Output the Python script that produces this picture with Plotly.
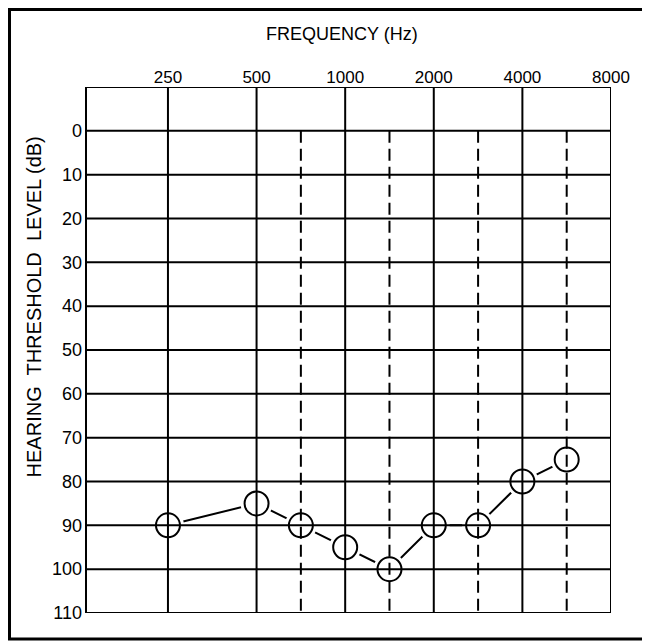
import math
import plotly.graph_objects as go

# ---- data ----
frequencies = [250, 500, 750, 1000, 1500, 2000, 3000, 4000, 6000]
thresholds_db = [90, 85, 90, 95, 100, 90, 90, 80, 75]
octave_freqs = [250, 500, 1000, 2000, 4000, 8000]
octave_labels = ["250", "500", "1000", "2000", "4000", "8000"]
mid_octave_freqs = [750, 1500, 3000, 6000]
db_levels = [-10, 0, 10, 20, 30, 40, 50, 60, 70, 80, 90, 100, 110]
db_tick_vals = [0, 10, 20, 30, 40, 50, 60, 70, 80, 90, 100, 110]
db_tick_labels = [str(v) for v in db_tick_vals]


def audiogram_pos(f):
    """Audiogram frequency scale: octaves relative to 250 Hz,
    inter-octave frequencies placed at the half-octave."""
    return round(2 * math.log2(f / 250)) / 2


x_data = [audiogram_pos(f) for f in frequencies]
x_octaves = [audiogram_pos(f) for f in octave_freqs]
x_mids = [audiogram_pos(f) for f in mid_octave_freqs]

FONT = "Liberation Sans, Arial, sans-serif"
fig = go.Figure()

# connecting line
fig.add_trace(go.Scatter(
    x=x_data, y=thresholds_db, mode="lines",
    line=dict(color="black", width=2),
    hoverinfo="skip", showlegend=False,
))
# white halo to leave a small gap between line and circles
fig.add_trace(go.Scatter(
    x=x_data, y=thresholds_db, mode="markers",
    marker=dict(symbol="circle", size=32, color="white", line=dict(width=0)),
    hoverinfo="skip", showlegend=False,
))
# circle symbols
fig.add_trace(go.Scatter(
    x=x_data, y=thresholds_db, mode="markers",
    marker=dict(symbol="circle", size=24, color="white",
                line=dict(color="black", width=2)),
    customdata=frequencies,
    hovertemplate="%{customdata} Hz: %{y} dB<extra></extra>",
    showlegend=False,
))

shapes = []
for v in db_levels:
    shapes.append(dict(type="line", xref="paper", yref="y", x0=0, x1=1, y0=v, y1=v,
                       line=dict(color="black", width=2), layer="above"))
for xv in x_octaves:
    shapes.append(dict(type="line", xref="x", yref="y", x0=xv, x1=xv, y0=-10, y1=110,
                       line=dict(color="black", width=2), layer="above"))
for xv in x_mids:
    shapes.append(dict(type="line", xref="x", yref="y", x0=xv, x1=xv, y0=0, y1=110,
                       line=dict(color="black", width=2, dash="12px,6px"), layer="above"))
shapes.append(dict(type="line", xref="paper", yref="paper", x0=0, x1=0, y0=0, y1=1,
                   line=dict(color="black", width=2), layer="above"))
# outer frame
shapes.append(dict(type="rect", xref="paper", yref="paper",
                   x0=-0.1457, x1=1.0724, y0=-0.0494, y1=1.1473,
                   line=dict(color="black", width=3), layer="above"))

fig.update_layout(
    width=642, height=633,
    margin=dict(l=78, r=39, t=79, b=28, autoexpand=False),
    paper_bgcolor="white", plot_bgcolor="white",
    font=dict(family=FONT, color="black"),
    shapes=shapes,
    xaxis=dict(range=[-0.925, 5.0],
               side="top", tickvals=x_octaves, ticktext=octave_labels,
               showgrid=False, zeroline=False, showline=False, ticks="",
               automargin=False,
               tickfont=dict(size=17, family=FONT, color="black")),
    yaxis=dict(range=[110, -10], tickvals=db_tick_vals, ticktext=db_tick_labels,
               showgrid=False, zeroline=False, showline=False, ticks="",
               automargin=False, ticklabelstandoff=3,
               tickfont=dict(size=18, family=FONT, color="black")),
    annotations=[
        dict(text="FREQUENCY (Hz)", xref="paper", yref="paper", x=0.488, y=1.1017,
             xanchor="center", yanchor="middle",
             showarrow=False, font=dict(size=18, family=FONT, color="black")),
        dict(text="HEARING  THRESHOLD  LEVEL (dB)", xref="paper", yref="paper",
             x=-0.099, y=0.581, xanchor="center", yanchor="middle",
             textangle=-90, showarrow=False,
             font=dict(size=20, family=FONT, color="black")),
    ],
)

fig.write_html("out.html")
